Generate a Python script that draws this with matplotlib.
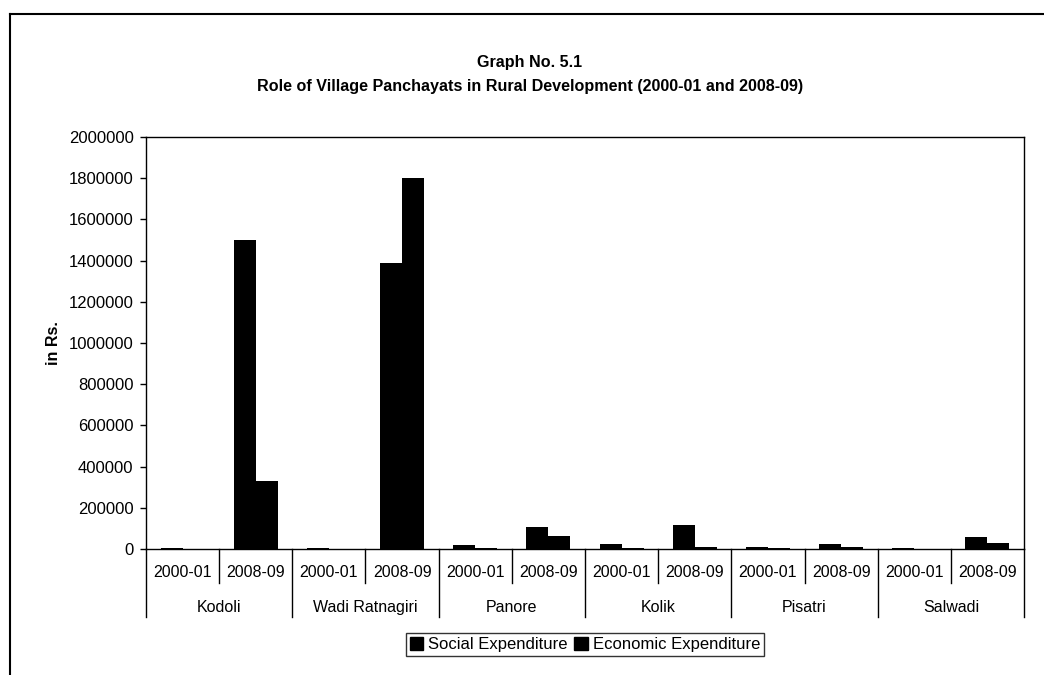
import numpy as np
import matplotlib
matplotlib.use("Agg")
import matplotlib.pyplot as plt
from matplotlib.lines import Line2D
from matplotlib.patches import Patch

plt.rcParams['font.family'] = ['Liberation Sans', 'DejaVu Sans']

# Data (Rs.)
villages = ["Kodoli", "Wadi Ratnagiri", "Panore", "Kolik", "Pisatri", "Salwadi"]
years = ["2000-01", "2008-09"]
social = [3000, 1500000, 5000, 1390000, 19000, 107000,
          22000, 118000, 10000, 22000, 5000, 58000]
economic = [1000, 330000, 1000, 1800000, 3000, 61000,
            5000, 12000, 3000, 8000, 2000, 29000]
yticks = list(range(0, 2000001, 200000))

W, H = 1044, 675
fig = plt.figure(figsize=(W / 100, H / 100), dpi=100)

# plot area in pixels: left 146, right 1024, top 137, bottom 549
ax = fig.add_axes([146 / W, (H - 549) / H, (1024 - 146) / W, (549 - 137) / H])

n = len(social)
x = np.arange(n)
bw = 0.3
ax.bar(x - bw / 2, social, bw, color="black", label="Social Expenditure")
ax.bar(x + bw / 2, economic, bw, color="black", label="Economic Expenditure")

ax.set_xlim(-0.5, n - 0.5)
ax.set_ylim(0, 2000000)
ax.set_yticks(yticks)
ax.set_yticklabels([str(v) for v in yticks], fontsize=12)
ax.tick_params(axis="y", direction="out", length=4, width=1, pad=5)
ax.set_xticks([])
for s in ax.spines.values():
    s.set_color("black")
    s.set_linewidth(1)

ax.set_ylabel("in Rs.", fontsize=11.5, fontweight="bold", va="center")
ax.yaxis.set_label_coords((53 - 146) / (1024 - 146), 0.5)

# two level category axis
trans = ax.get_xaxis_transform()
for i in range(n):
    ax.text(i, -0.058, years[i % 2], transform=trans, ha="center", va="center", fontsize=11.5)
for i in range(n + 1):
    b = i - 0.5
    low = -0.165 if i % 2 == 0 else -0.083
    ax.plot([b, b], [0, low], transform=trans, color="black", lw=1, clip_on=False)
for j, v in enumerate(villages):
    ax.text(2 * j + 0.5, -0.141, v, transform=trans, ha="center", va="center", fontsize=11.5)

# titles
fig.text(530 / W, 1 - 63 / H, "Graph No. 5.1", ha="center", va="center",
         fontsize=11.6, fontweight="bold")
fig.text(530 / W, 1 - 86 / H,
         "Role of Village Panchayats in Rural Development (2000-01 and 2008-09)",
         ha="center", va="center", fontsize=11.6, fontweight="bold")

handles = [Patch(facecolor="black", edgecolor="black"),
           Patch(facecolor="black", edgecolor="black")]
leg = fig.legend(handles, ["Social Expenditure", "Economic Expenditure"],
                 loc="center", bbox_to_anchor=(585 / W, 1 - 644.5 / H), ncol=2,
                 fontsize=12, frameon=True, fancybox=False, handlelength=0.8,
                 handleheight=0.8, handletextpad=0.3, columnspacing=0.4,
                 borderpad=0.25, borderaxespad=0)
leg.get_frame().set_edgecolor("black")
leg.get_frame().set_linewidth(1)

# outer chart border (only left and top visible in the scan)
fig.add_artist(Line2D([10 / W, 10 / W], [0, 1 - 14 / H], transform=fig.transFigure,
                      color="black", lw=1.5))
fig.add_artist(Line2D([10 / W, 1], [1 - 14 / H, 1 - 14 / H], transform=fig.transFigure,
                      color="black", lw=1.5))

fig.savefig("out.png", dpi=100)
